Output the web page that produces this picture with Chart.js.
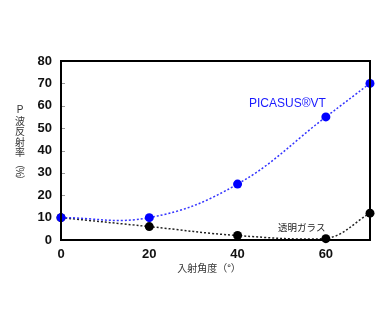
<!DOCTYPE html>
<html>
<head>
<meta charset="utf-8">
<script src="https://cdn.jsdelivr.net/npm/chart.js@4.4.0/dist/chart.umd.min.js"></script>
<style>
  html, body { margin: 0; padding: 0; background: #fff; }
  #wrap { width: 390px; height: 321px; }
</style>
</head>
<body>
<div id="wrap"><canvas id="chart" width="390" height="321"></canvas></div>
<script>
// Data
const angles = [0, 20, 40, 60, 70];
const picasusValues = [10, 10, 25, 55, 70];
const glassValues = [10, 6, 2, 0.6, 12];
const yTicks = [0, 10, 20, 30, 40, 50, 60, 70, 80];
const xTicks = [0, 20, 40, 60];

const toPoints = (ys) => angles.map((x, i) => ({ x: x, y: ys[i] }));

// Frame, axis titles and in-plot labels
const decorations = {
    id: 'decorations',
    beforeDatasetsDraw(chart) {
        const { ctx, chartArea: a, scales } = chart;
        ctx.save();
        ctx.strokeStyle = '#999';
        ctx.lineWidth = 1;
        yTicks.forEach(v => {
            const y = Math.round(scales.y.getPixelForValue(v)) + 0.5;
            ctx.beginPath();
            ctx.moveTo(a.left, y);
            ctx.lineTo(a.left + 4, y);
            ctx.stroke();
        });
        ctx.restore();
    },
    afterDatasetsDraw(chart) {
        const { ctx, chartArea: a } = chart;
        ctx.save();
        ctx.strokeStyle = '#000';
        ctx.lineWidth = 2;
        ctx.strokeRect(a.left, a.top, a.right - a.left, a.bottom - a.top);

        // series labels
        ctx.font = '12px "Liberation Sans", Arial, sans-serif';
        ctx.fillStyle = '#1a1aff';
        ctx.textAlign = 'left';
        ctx.textBaseline = 'middle';
        ctx.fillText('PICASUS®VT', 249, 104);
        ctx.fillStyle = '#222';
        ctx.font = '9.5px "Noto Sans CJK JP", sans-serif';
        ctx.fillText('透明ガラス', 278, 227);

        // x title
        ctx.fillStyle = '#333';
        ctx.textAlign = 'center';
        ctx.font = '10px "Noto Sans CJK JP", sans-serif';
        ctx.fillText('入射角度（°）', 209, 268);

        // y title, vertical writing
        const cx = 20;
        let y = 110;
        ctx.font = '10px "Liberation Sans", Arial, sans-serif';
        ctx.fillText('P', cx, y);
        y += 11;
        ctx.font = '10px "Noto Sans CJK JP", sans-serif';
        for (const ch of '波反射率') {
            ctx.fillText(ch, cx, y);
            y += 10.5;
        }
        y += 1;
        for (const ch of '（%）') {
            ctx.save();
            ctx.translate(cx, y);
            ctx.rotate(Math.PI / 2);
            ctx.fillText(ch, 0, 0);
            ctx.restore();
            y += 8;
        }
        ctx.restore();
    }
};

new Chart(document.getElementById('chart'), {
    type: 'line',
    data: {
        datasets: [
            {
                label: 'PICASUS®VT',
                data: toPoints(picasusValues),
                borderColor: '#3333ff',
                backgroundColor: '#0000ff',
                borderWidth: 1.5,
                borderDash: [2, 2],
                pointRadius: 4.5,
                pointBorderWidth: 0,
                tension: 0.4,
                clip: false
            },
            {
                label: '透明ガラス',
                data: toPoints(glassValues),
                borderColor: '#222',
                backgroundColor: '#000',
                borderWidth: 1.5,
                borderDash: [2, 2],
                pointRadius: 4.5,
                pointBorderWidth: 0,
                tension: 0.4,
                clip: false
            }
        ]
    },
    options: {
        responsive: false,
        animation: false,
        layout: { padding: { top: 61, right: 20, left: 0, bottom: 0 } },
        plugins: { legend: { display: false }, tooltip: { enabled: false } },
        scales: {
            x: {
                type: 'linear',
                min: 0,
                max: 70,
                afterBuildTicks: (axis) => { axis.ticks = xTicks.map(v => ({ value: v })); },
                afterFit: (axis) => { axis.height = 81; },
                grid: { display: false, drawTicks: false },
                border: { display: false },
                ticks: {
                    padding: 7,
                    color: '#111',
                    font: { family: '"Liberation Sans", Arial, sans-serif', size: 13, weight: 'bold' }
                }
            },
            y: {
                min: 0,
                max: 80,
                afterBuildTicks: (axis) => { axis.ticks = yTicks.map(v => ({ value: v })); },
                afterFit: (axis) => { axis.width = 61; },
                grid: { display: false, drawTicks: false },
                border: { display: false },
                ticks: {
                    padding: 9,
                    color: '#111',
                    font: { family: '"Liberation Sans", Arial, sans-serif', size: 13, weight: 'bold' }
                }
            }
        }
    },
    plugins: [decorations]
});
</script>
</body>
</html>
